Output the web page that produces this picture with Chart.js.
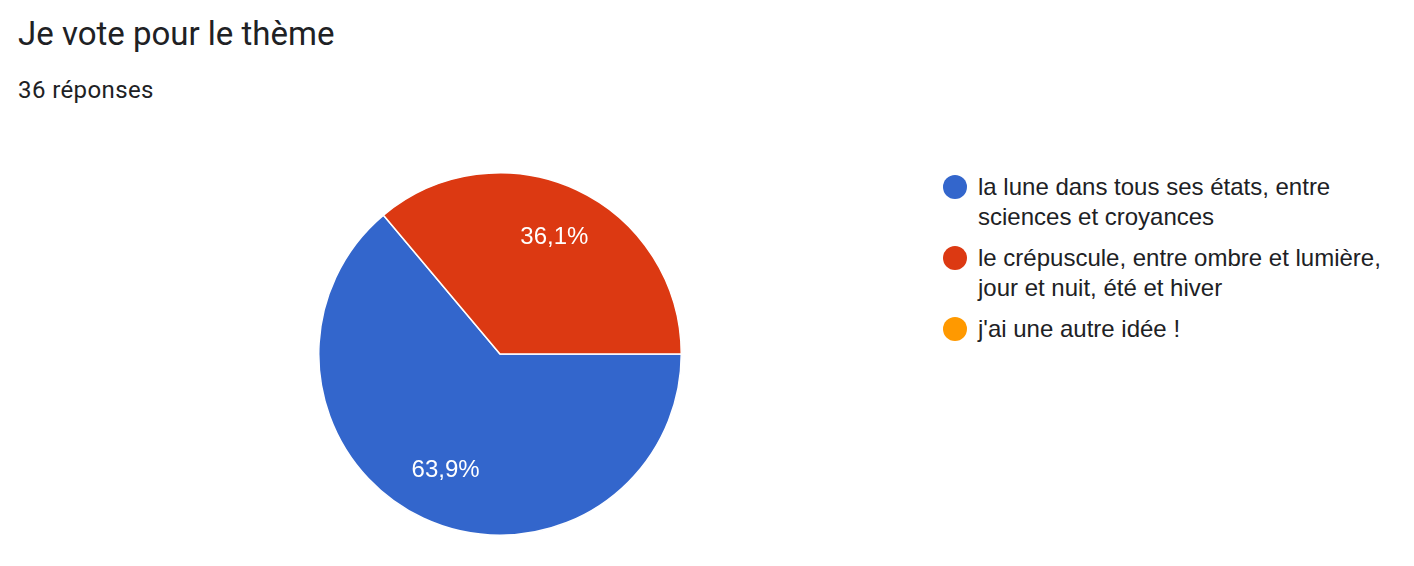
<!DOCTYPE html>
<html lang="fr">
<head>
<meta charset="utf-8">
<script src="https://cdn.jsdelivr.net/npm/chart.js@4.4.0/dist/chart.umd.min.js"></script>
<style>
  body { margin: 0; background: #fff; width: 1414px; height: 566px; overflow: hidden; position: relative; }
  #titre { position: absolute; left: 18px; top: 17px; font: 33px/33px Roboto, sans-serif; color: #202124; white-space: nowrap; }
  #nb { position: absolute; left: 18px; top: 78px; font: 24px/24px Roboto, sans-serif; letter-spacing: 0.4px; color: #202124; white-space: nowrap; }
  #pieBox { position: absolute; left: 318px; top: 172px; width: 364px; height: 364px; }
  #legende { position: absolute; left: 943px; top: 172px; font: 24px "Liberation Sans", Arial, sans-serif; color: #202124; }
  .item { position: relative; padding-left: 35px; line-height: 30px; margin-bottom: 11px; white-space: nowrap; }
  .item span.pt { position: absolute; left: 0; top: 3px; width: 24px; height: 24px; border-radius: 50%; }
</style>
</head>
<body>
<div id="titre">Je vote pour le thème</div>
<div id="nb">36 réponses</div>
<div id="pieBox"><canvas id="pie" width="364" height="364"></canvas></div>
<div id="legende"></div>
<script>
// réponses au sondage
const choix = [
  ['la lune dans tous ses états, entre', 'sciences et croyances'],
  ['le crépuscule, entre ombre et lumière,', 'jour et nuit, été et hiver'],
  ["j'ai une autre idée !"]
];
const votes = [23, 13, 0];
const couleurs = ['#3366cc', '#dc3912', '#ff9900'];

// légende à droite
const legende = document.getElementById('legende');
choix.forEach((lignes, i) => {
  const d = document.createElement('div');
  d.className = 'item';
  d.innerHTML = '<span class="pt" style="background:' + couleurs[i] + '"></span>' + lignes.join('<br>');
  legende.appendChild(d);
});

// pourcentages dans les parts
const pourcentages = {
  id: 'pourcentages',
  afterDatasetsDraw(chart) {
    const ctx = chart.ctx;
    const total = votes.reduce((a, b) => a + b, 0);
    ctx.save();
    ctx.font = '24px "Liberation Sans", Arial, sans-serif';
    ctx.fillStyle = '#fff';
    ctx.textAlign = 'center';
    ctx.textBaseline = 'middle';
    chart.getDatasetMeta(0).data.forEach((arc, i) => {
      if (!votes[i]) return;
      const p = arc.getProps(['x', 'y', 'startAngle', 'endAngle', 'outerRadius'], true);
      const mid = (p.startAngle + p.endAngle) / 2;
      const r = p.outerRadius * 0.71;
      const txt = (votes[i] / total * 100).toFixed(1).replace('.', ',') + '%';
      ctx.fillText(txt, p.x + Math.cos(mid) * r, p.y + Math.sin(mid) * r);
    });
    ctx.restore();
  }
};

new Chart(document.getElementById('pie'), {
  type: 'pie',
  data: {
    labels: choix.map(l => l.join(' ')),
    datasets: [{
      data: votes,
      backgroundColor: couleurs,
      borderColor: '#fff',
      borderWidth: 1.5
    }]
  },
  options: {
    responsive: false,
    animation: false,
    rotation: 90,
    layout: { padding: 0 },
    plugins: {
      legend: { display: false },
      tooltip: { enabled: false }
    }
  },
  plugins: [pourcentages]
});
</script>
</body>
</html>
